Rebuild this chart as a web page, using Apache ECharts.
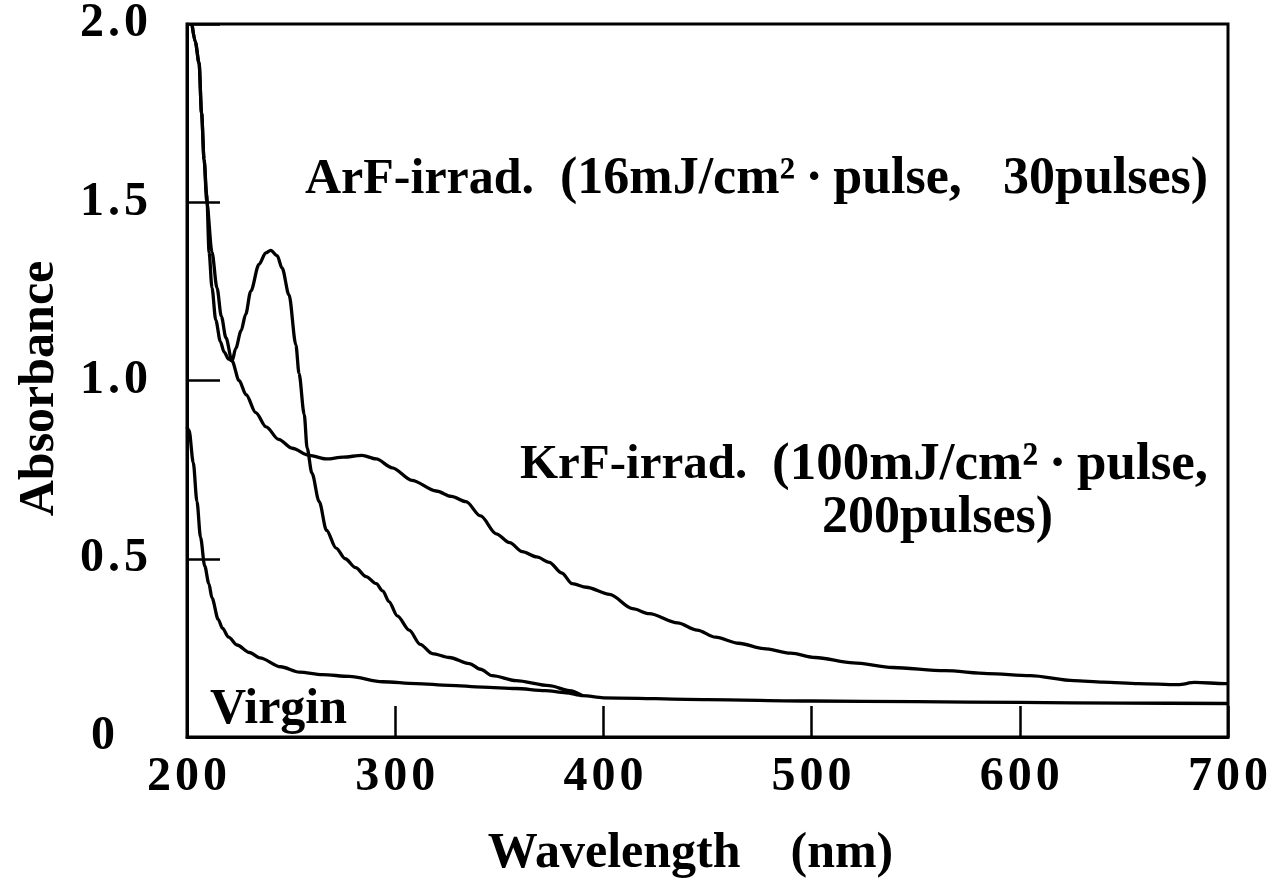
<!DOCTYPE html>
<html>
<head>
<meta charset="utf-8">
<script src="https://cdn.jsdelivr.net/npm/echarts@6/dist/echarts.min.js"></script>
<style>
html,body{margin:0;padding:0;background:#fff;overflow:hidden;}
#chart{width:1277px;height:894px;}
</style>
</head>
<body>
<div id="chart"></div>
<script>
// ---- data (wavelength nm, absorbance) ----
const xTicks = [200, 300, 400, 500, 600, 700];
const yTicks = [0, 0.5, 1.0, 1.5, 2.0];

const virgin = [
  [200, 0.87], [201, 0.86], [203, 0.77], [204.8, 0.66], [206.5, 0.56], [208.5, 0.48],
  [210.5, 0.43], [212, 0.39], [215, 0.33], [217, 0.305], [220, 0.28], [224, 0.258],
  [230, 0.237], [235, 0.222], [245, 0.197], [254, 0.182], [265, 0.175], [278, 0.17],
  [294, 0.155], [310, 0.15], [326, 0.145], [342, 0.14], [358, 0.136], [372, 0.13],
  [382, 0.124], [390, 0.116], [400, 0.11], [450, 0.105], [500, 0.101], [550, 0.099],
  [600, 0.097], [650, 0.095], [700, 0.094]
];

const peakCurve = [
  [202.4, 2.0], [204, 1.95], [205.8, 1.89], [207, 1.75], [208.2, 1.62], [209.5, 1.52],
  [210.6, 1.36], [212, 1.26], [213.8, 1.17], [216, 1.11], [217.8, 1.08], [220, 1.06],
  [221.7, 1.055], [223.4, 1.09], [226, 1.14], [228.2, 1.186], [230.6, 1.25], [234.6, 1.326],
  [237.8, 1.358], [240.2, 1.365], [243.3, 1.35], [245.7, 1.315], [249, 1.24], [252.3, 1.10],
  [253.8, 1.02], [256.3, 0.905], [257.7, 0.81], [260, 0.74], [263.5, 0.66], [267, 0.58],
  [271.6, 0.53], [276, 0.50], [281, 0.475], [286, 0.45], [290.9, 0.43], [294, 0.41],
  [297, 0.38], [301, 0.34], [306.7, 0.30], [312, 0.26], [317.8, 0.234], [326, 0.223],
  [335.6, 0.206], [341, 0.19], [346.6, 0.172], [358, 0.158], [374, 0.144], [383.7, 0.13],
  [390, 0.116]
];

const broadCurve = [
  [202.4, 2.0], [204, 1.95], [205.8, 1.89], [207, 1.75], [208.2, 1.62], [209.5, 1.50],
  [212, 1.36], [214.4, 1.26], [216.5, 1.18], [218.7, 1.12], [221.6, 1.055], [225, 1.00],
  [228.4, 0.96], [233, 0.91], [238, 0.87], [244, 0.835], [250.5, 0.81], [258.7, 0.79],
  [266.8, 0.78], [275, 0.785], [284, 0.79], [290.9, 0.78], [298.6, 0.755], [308, 0.72],
  [319.7, 0.69], [327, 0.675], [334, 0.66], [341, 0.62], [348.5, 0.57], [355, 0.545],
  [361, 0.52], [368, 0.505], [374, 0.49], [380, 0.46], [385, 0.43], [391.8, 0.42],
  [403, 0.40], [414, 0.36], [422, 0.346], [435.6, 0.32], [445, 0.30], [453.8, 0.28],
  [465, 0.263], [477, 0.248], [490, 0.235], [501.7, 0.223], [520, 0.208], [539, 0.195],
  [564, 0.186], [584.6, 0.178], [605, 0.172], [626, 0.158], [640, 0.154], [657, 0.15],
  [676, 0.147], [684, 0.153], [698.6, 0.15], [700, 0.15]
];

const labels = {
  arf1: 'ArF-irrad.', arf2: '(16mJ/cm\u00B2\u2009\u00B7\u2009pulse,', arf3: '30pulses)',
  krf1: 'KrF-irrad.', krf2: '(100mJ/cm\u00B2\u2009\u00B7\u2009pulse,', krf3: '200pulses)',
  virgin: 'Virgin',
  xName: 'Wavelength\u2003(nm)', yName: 'Absorbance'
};

// ---- chart ----
const FONT = '"Liberation Serif", "Times New Roman", serif';
const spaced = s => s.split('').join('\u200A');
const chart = echarts.init(document.getElementById('chart'), null, {renderer: 'canvas'});

function lineSeries(name, data) {
  return {
    name, type: 'line', data, showSymbol: false, symbol: 'none',
    smooth: 0.3, smoothMonotone: 'x', animation: false,
    lineStyle: {color: '#000', width: 3.3}, z: 3
  };
}

function txt(text, left, cy, size) {
  return {
    type: 'text', x: left, y: cy, z: 10,
    style: {text, fill: '#000', font: 'bold ' + size + 'px ' + FONT,
            textAlign: 'left', textVerticalAlign: 'middle'}
  };
}

chart.setOption({
  backgroundColor: '#fff',
  animation: false,
  grid: {left: 187, right: 49, top: 24, bottom: 157, show: true, containLabel: false,
         outerBoundsMode: 'none',
         borderColor: '#000', borderWidth: 3, backgroundColor: 'transparent'},
  xAxis: {
    type: 'value', min: xTicks[0], max: xTicks[xTicks.length - 1], interval: 100,
    name: labels.xName, nameLocation: 'middle', nameGap: 92,
    nameTextStyle: {fontFamily: FONT, fontWeight: 'bold', fontSize: 50, color: '#000', padding: [0, 34, 0, 0]},
    axisLine: {show: true, lineStyle: {color: '#000', width: 3}},
    axisTick: {show: true, inside: true, length: 31, lineStyle: {color: '#000', width: 2.5}},
    axisLabel: {margin: 17, fontFamily: FONT, fontWeight: 'bold', fontSize: 48, color: '#000',
                formatter: v => spaced(String(v))},
    splitLine: {show: false}
  },
  yAxis: {
    type: 'value', min: yTicks[0], max: yTicks[yTicks.length - 1], interval: 0.5,
    name: labels.yName, nameLocation: 'middle', nameGap: 122, nameRotate: 90,
    nameTextStyle: {fontFamily: FONT, fontWeight: 'bold', fontSize: 50, color: '#000', padding: [0, 16, 0, 0]},
    axisLine: {show: true, lineStyle: {color: '#000', width: 3}},
    axisTick: {show: true, inside: true, length: 33, lineStyle: {color: '#000', width: 2.5}},
    axisLabel: {margin: 39, fontFamily: FONT, fontWeight: 'bold', fontSize: 48, color: '#000',
                formatter: v => v === 0 ? '{z|0}' : spaced(v.toFixed(1)),
                rich: {z: {fontFamily: FONT, fontWeight: 'bold', fontSize: 48, color: '#000', padding: [0, 33, 0, 0]}}},
    splitLine: {show: false}
  },
  series: [
    lineSeries('Virgin', virgin),
    lineSeries('Peak', peakCurve),
    lineSeries('Broad', broadCurve)
  ],
  graphic: [
    txt(labels.arf1, 305, 180, 50),
    txt(labels.arf2, 560, 180, 52),
    txt(labels.arf3, 1003, 180, 52),
    txt(labels.krf1, 520, 465, 49),
    txt(labels.krf2, 772, 465, 53),
    txt(labels.krf3, 822, 519, 52),
    txt(labels.virgin, 210, 710, 50)
  ]
});
</script>
</body>
</html>
